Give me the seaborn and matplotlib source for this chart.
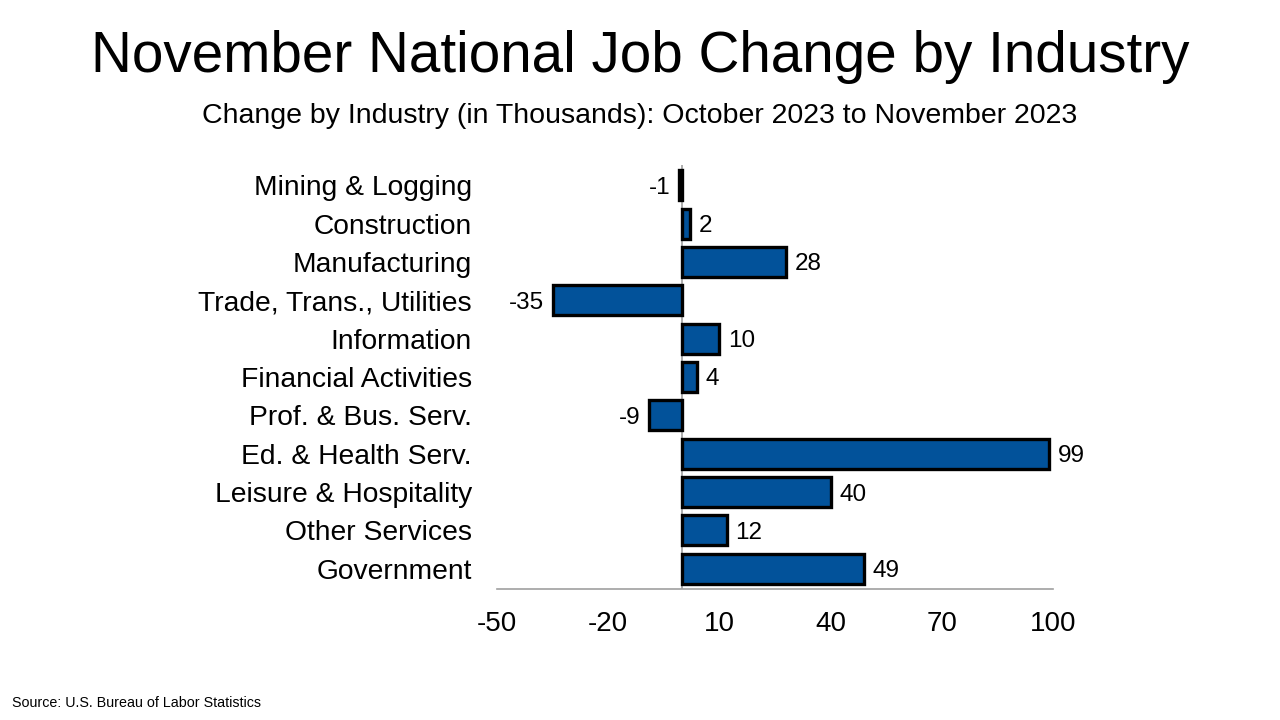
import pandas as pd
import matplotlib.pyplot as plt
import seaborn as sns

industries = ['Mining & Logging', 'Construction', 'Manufacturing', 'Trade, Trans., Utilities',
              'Information', 'Financial Activities', 'Prof. & Bus. Serv.', 'Ed. & Health Serv.',
              'Leisure & Hospitality', 'Other Services', 'Government']
job_change = [-1, 2, 28, -35, 10, 4, -9, 99, 40, 12, 49]
x_ticks = [-50, -20, 10, 40, 70, 100]

df = pd.DataFrame({'Industry': industries, 'Change': job_change})

sns.set_style('white')
plt.rcParams['font.family'] = ['Liberation Sans', 'DejaVu Sans']
plt.rcParams['text.color'] = 'black'
plt.rcParams['xtick.color'] = 'black'
plt.rcParams['ytick.color'] = 'black'

fig = plt.figure(figsize=(12.8, 7.2), dpi=100)
ax = fig.add_axes([497 / 1280, 1 - 589 / 720, 556 / 1280, 424 / 720])

sns.barplot(data=df, x='Change', y='Industry', color='#02529A', saturation=1,
            edgecolor='black', linewidth=2.4, width=0.78, ax=ax)

# value labels beside each bar
for bar, val in zip(ax.patches, job_change):
    y = bar.get_y() + bar.get_height() / 2
    if val >= 0:
        ax.text(val + 2.3, y, str(val), va='center_baseline', ha='left', fontsize=17.5)
    else:
        ax.text(val - 2.3, y, str(val), va='center_baseline', ha='right', fontsize=17.5)

ax.set_xlim(-50, 100)
ax.set_ylim(len(industries) - 0.5 + 0.03, -0.5 - 0.03)
ax.set_xticks(x_ticks)
ax.set_xticklabels([str(t) for t in x_ticks], fontsize=20)
ax.tick_params(axis='x', length=0, pad=16)
ax.tick_params(axis='y', length=0, pad=18, labelsize=20.3)
for lab in ax.get_yticklabels():
    lab.set_verticalalignment('center_baseline')
ax.set_xlabel('')
ax.set_ylabel('')

for side in ['top', 'right', 'left']:
    ax.spines[side].set_visible(False)
ax.spines['bottom'].set_color('#A0A0A0')
ax.spines['bottom'].set_linewidth(1.2)
ax.axvline(0, color='#A0A0A0', linewidth=1.2, zorder=0.5)
ax.grid(False)

fig.text(0.5, 1 - 57 / 720, 'November National Job Change by Industry', ha='center', va='center',
         fontsize=40.8)
fig.text(0.5, 1 - 116 / 720, 'Change by Industry (in Thousands): October 2023 to November 2023',
         ha='center', va='center', fontsize=20.5)
fig.text(12 / 1280, 1 - 703 / 720, 'Source: U.S. Bureau of Labor Statistics', ha='left', va='center',
         fontsize=10.3)

fig.savefig('out.png', dpi=100)
